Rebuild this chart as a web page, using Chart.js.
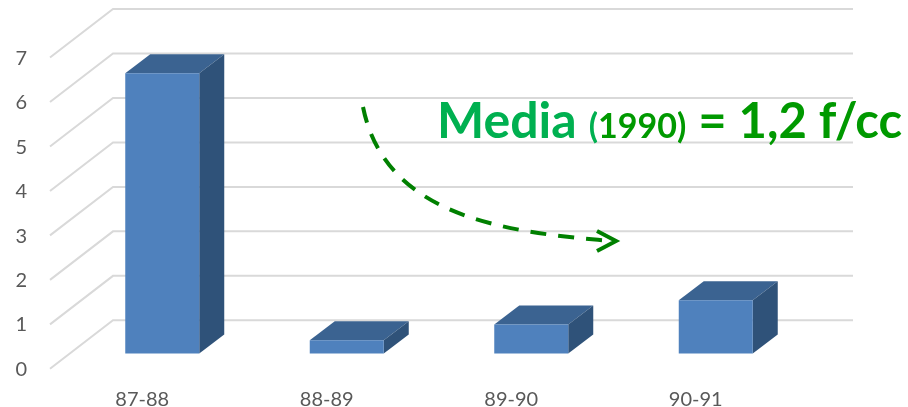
<!DOCTYPE html>
<html>
<head>
<meta charset="utf-8">
<script src="https://cdn.jsdelivr.net/npm/chart.js@4/dist/chart.umd.min.js"></script>
<style>
  html, body { margin: 0; padding: 0; background: #fff; }
  canvas { display: block; }
</style>
</head>
<body>
<canvas id="fiberChart" width="908" height="407"></canvas>
<script>
const categories = ["87-88", "88-89", "89-90", "90-91"];
const fiberValues = [6.3, 0.3, 0.65, 1.2];
const yTickValues = [0, 1, 2, 3, 4, 5, 6, 7];

const FONT = "Lato, Carlito, sans-serif";

// Fake 3D look: back wall grid, then top and side face of every bar
const depthPlugin = {
  id: "depth",
  beforeDatasetsDraw(chart) {
    const { ctx, scales } = chart;

    // Grid lines sit on the back wall, with a diagonal on the left side wall
    ctx.save();
    ctx.strokeStyle = "#D9D9D9";
    ctx.lineWidth = 2;
    yTickValues.forEach(v => {
      const y = scales.y.getPixelForValue(v) - 33.2;
      ctx.beginPath();
      ctx.moveTo(50, y + 48.5);
      ctx.lineTo(113, y);
      ctx.lineTo(853, y);
      ctx.stroke();
    });
    ctx.restore();

    // Faces behind the front rectangle
    const dx = 25, dy = 19;
    ctx.save();
    chart.getDatasetMeta(0).data.forEach(bar => {
      const left = bar.x - bar.width / 2;
      const right = bar.x + bar.width / 2;

      ctx.fillStyle = "#3B6391";
      ctx.beginPath();
      ctx.moveTo(left, bar.y);
      ctx.lineTo(left + dx, bar.y - dy);
      ctx.lineTo(right + dx, bar.y - dy);
      ctx.lineTo(right, bar.y);
      ctx.closePath();
      ctx.fill();

      ctx.fillStyle = "#2F5279";
      ctx.beginPath();
      ctx.moveTo(right, bar.y);
      ctx.lineTo(right + dx, bar.y - dy);
      ctx.lineTo(right + dx, bar.base - dy);
      ctx.lineTo(right, bar.base);
      ctx.closePath();
      ctx.fill();
    });
    ctx.restore();
  }
};

// The "Media" note and the dashed arrow on top of the chart
const notePlugin = {
  id: "note",
  afterDraw(chart) {
    const { ctx } = chart;
    ctx.save();

    ctx.strokeStyle = "#008000";
    ctx.lineWidth = 4;
    ctx.setLineDash([16, 12]);
    ctx.beginPath();
    ctx.moveTo(363, 107);
    ctx.bezierCurveTo(385, 215, 500, 232, 612, 241);
    ctx.stroke();

    ctx.setLineDash([]);
    ctx.beginPath();
    ctx.moveTo(597, 231);
    ctx.lineTo(616, 241);
    ctx.lineTo(597, 251);
    ctx.stroke();

    const parts = [
      { text: "Media ", size: 50, color: "#00B050" },
      { text: "(", size: 34, color: "#00B050" },
      { text: "1990)", size: 34, color: "#009900" },
      { text: " = 1,2 f/cc", size: 49, color: "#009900" }
    ];
    let x = 437;
    ctx.textBaseline = "alphabetic";
    ctx.textAlign = "left";
    parts.forEach(p => {
      ctx.font = "bold " + p.size + "px " + FONT;
      ctx.fillStyle = p.color;
      ctx.fillText(p.text, x, 138);
      x += ctx.measureText(p.text).width;
    });

    ctx.restore();
  }
};

new Chart(document.getElementById("fiberChart"), {
  type: "bar",
  data: {
    labels: categories,
    datasets: [{
      data: fiberValues,
      backgroundColor: "#4F81BD",
      borderWidth: 0,
      barPercentage: 0.401,
      categoryPercentage: 1
    }]
  },
  options: {
    responsive: false,
    animation: false,
    layout: { padding: { right: 100 } },
    plugins: {
      legend: { display: false },
      tooltip: { enabled: false }
    },
    scales: {
      x: {
        grid: { display: false },
        border: { display: false },
        afterFit(scale) {
          scale.height = 27;
          scale.paddingLeft = 0;
          scale.paddingRight = 0;
        },
        ticks: {
          color: "#595959",
          font: { family: FONT, size: 20 },
          labelOffset: -20,
          padding: 0,
          maxRotation: 0
        }
      },
      y: {
        min: -0.596,
        max: 7.95,
        grid: { display: false },
        border: { display: false },
        // tick padding would otherwise shrink the plot area from top and bottom
        afterFit(scale) {
          scale.width = 70;
          scale.paddingTop = 0;
          scale.paddingBottom = 0;
        },
        afterBuildTicks(scale) { scale.ticks = yTickValues.map(v => ({ value: v })); },
        ticks: {
          color: "#595959",
          font: { family: FONT, size: 20 },
          labelOffset: 16,
          padding: 35
        }
      }
    }
  },
  plugins: [depthPlugin, notePlugin]
});
</script>
</body>
</html>
